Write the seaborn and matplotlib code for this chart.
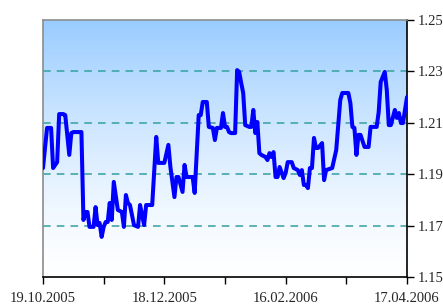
import numpy as np
import pandas as pd
import matplotlib
matplotlib.use("Agg")
import matplotlib.pyplot as plt
import matplotlib.dates as mdates
import seaborn as sns

start = pd.Timestamp("2005-10-19")
days = [0, 2, 4, 5, 7, 8, 10, 11, 13, 14, 15, 19, 20, 21, 22, 23, 25, 26, 27, 28,
        29, 30, 31, 32, 33, 34, 35, 37, 39, 40, 41, 42, 43, 45, 47, 48, 50, 51, 54, 56,
        57, 60, 62, 63, 65, 66, 67, 69, 70, 71, 74, 75, 77, 78, 79, 81, 82, 84, 85, 86,
        88, 89, 90, 91, 92, 93, 95, 96, 97, 98, 99, 100, 102, 103, 104, 105, 106, 107, 108, 110,
        111, 112, 113, 114, 115, 116, 117, 119, 120, 121, 123, 124, 126, 127, 128, 129, 130, 131, 132, 133,
        134, 135, 136, 138, 139, 140, 143, 145, 147, 148, 151, 152, 153, 154, 155, 156, 157, 159, 161, 162,
        165, 166, 167, 169, 170, 171, 172, 174, 175, 176, 177, 178, 180]
rates = [1.1924, 1.2080, 1.2080, 1.1924, 1.1947, 1.2134, 1.2134, 1.2130, 1.1975, 1.2060,
         1.2064, 1.2064, 1.1722, 1.1753, 1.1753, 1.1695, 1.1695, 1.1772, 1.1702, 1.1710,
         1.1656, 1.1695, 1.1714, 1.1714, 1.1788, 1.1722, 1.1870, 1.1761, 1.1753, 1.1695,
         1.1819, 1.1788, 1.1780, 1.1702, 1.1695, 1.1780, 1.1702, 1.1780, 1.1780, 1.2045,
         1.1944, 1.1944, 1.2014, 1.1928, 1.1811, 1.1889, 1.1889, 1.1831, 1.1936, 1.1889,
         1.1889, 1.1827, 1.2130, 1.2130, 1.2181, 1.2181, 1.2084, 1.2080, 1.2033, 1.2080,
         1.2080, 1.2138, 1.2084, 1.2084, 1.2064, 1.2060, 1.2060, 1.2305, 1.2298, 1.2255,
         1.2216, 1.2091, 1.2084, 1.2084, 1.2150, 1.2060, 1.2103, 1.1982, 1.1975, 1.1967,
         1.1955, 1.1982, 1.1967, 1.1986, 1.1889, 1.1889, 1.1928, 1.1885, 1.1905, 1.1947,
         1.1947, 1.1924, 1.1916, 1.1897, 1.1916, 1.1858, 1.1858, 1.1846, 1.1924, 1.1924,
         1.2041, 1.2002, 1.2002, 1.2021, 1.1877, 1.1916, 1.1924, 1.1994, 1.2189, 1.2216,
         1.2216, 1.2177, 1.2084, 1.2080, 1.1975, 1.2053, 1.2053, 1.2006, 1.2006, 1.2084,
         1.2084, 1.2142, 1.2259, 1.2298, 1.2228, 1.2091, 1.2091, 1.2150, 1.2119, 1.2138,
         1.2099, 1.2099, 1.2200]
y_ticks = [1.15, 1.17, 1.19, 1.21, 1.23, 1.25]
grid_levels = [1.17, 1.19, 1.21, 1.23]

df = pd.DataFrame({"date": start + pd.to_timedelta(days, unit="D"), "rate": rates})

sns.set_style("white")
plt.rcParams["font.family"] = ["Liberation Serif", "DejaVu Serif"]

fig = plt.figure(figsize=(4.43, 3.04), dpi=100)
ax = fig.add_axes([43 / 443, 1 - 277 / 304, 364 / 443, 257 / 304])

# gradient background: light blue at top fading to white
grad = np.linspace(0, 1, 256).reshape(-1, 1)
top = np.array([0.60, 0.80, 1.0])
bottom = np.array([1.0, 1.0, 1.0])
img = bottom + (top - bottom) * grad[:, :, None] ** 1.4
ax.imshow(img, extent=[0, 1, 0, 1], transform=ax.transAxes, aspect="auto",
          origin="lower", zorder=0)

for lv in grid_levels:
    ax.axhline(lv, color="#33a0a0", lw=1.1, dashes=(5, 4), zorder=1)

sns.lineplot(data=df, x="date", y="rate", color="#0000ff", lw=2.9, ax=ax, zorder=3)

ax.set_xlim(start, start + pd.Timedelta(days=180))
ax.set_ylim(1.15, 1.25)
ax.set_yticks(y_ticks)
ax.yaxis.set_major_formatter(matplotlib.ticker.FormatStrFormatter("%.2f"))
ax.yaxis.tick_right()

major = [start + pd.Timedelta(days=d) for d in range(0, 181, 60)]
minor = [start + pd.Timedelta(days=d) for d in range(30, 181, 60)]
ax.set_xticks(major)
ax.set_xticks(minor, minor=True)
ax.xaxis.set_major_formatter(mdates.DateFormatter("%d.%m.%Y"))

ax.tick_params(axis="x", which="both", direction="out", length=5, width=1,
               color="black", bottom=True, pad=6, labelsize=10.5)
ax.tick_params(axis="y", direction="out", length=5, width=1, color="black",
               right=True, left=False, pad=3, labelsize=10.5)
ax.set_xlabel("")
ax.set_ylabel("")

for side in ["left", "top"]:
    ax.spines[side].set_color("#8c8c8c")
    ax.spines[side].set_linewidth(1.2)
for side in ["right", "bottom"]:
    ax.spines[side].set_color("black")
    ax.spines[side].set_linewidth(1.2)

fig.savefig("out.png", dpi=100)
